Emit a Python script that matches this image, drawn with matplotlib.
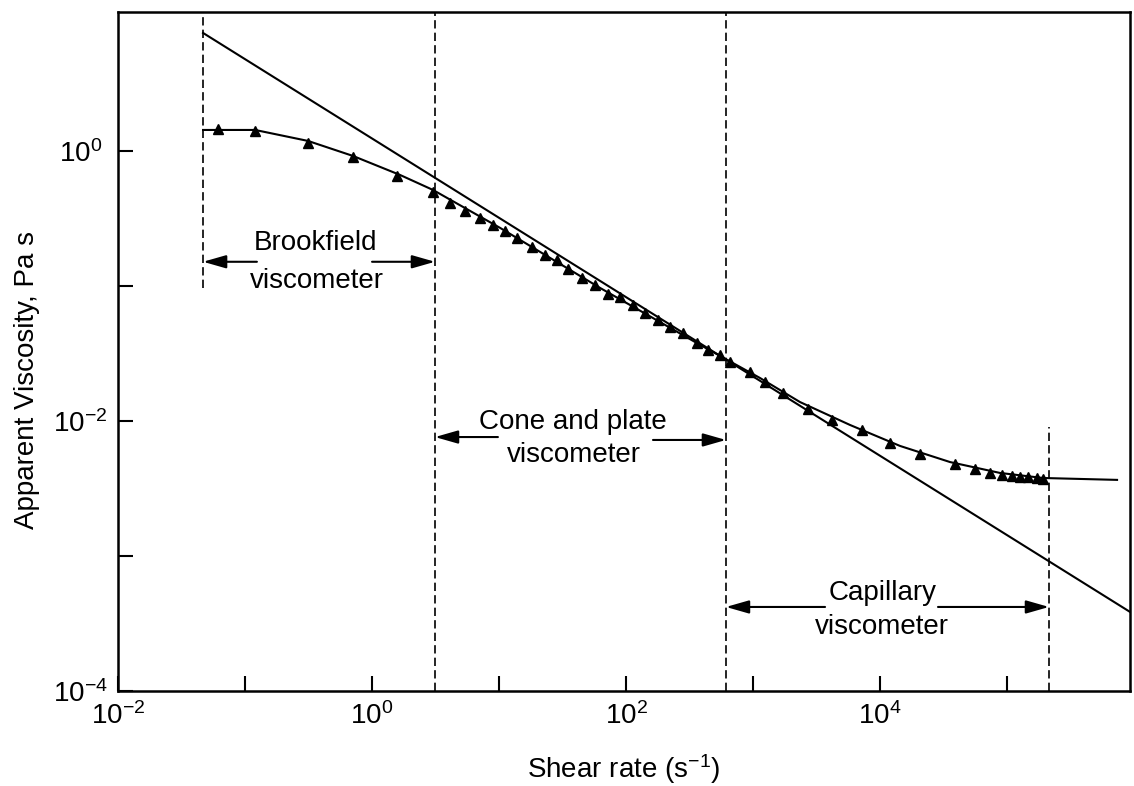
import matplotlib
matplotlib.use('Agg')
import matplotlib.pyplot as plt

plt.rcParams['font.family'] = 'Liberation Sans'
plt.rcParams['mathtext.fontset'] = 'custom'
plt.rcParams['mathtext.rm'] = 'Liberation Sans'
plt.rcParams['mathtext.it'] = 'Liberation Sans:italic'
plt.rcParams['mathtext.bf'] = 'Liberation Sans:bold'

# measured points (triangles)
shear_rate = [0.0612, 0.12, 0.313, 0.708, 1.57, 3.02, 4.11, 5.40, 7.08, 8.97,
              11.1, 13.9, 18.2, 23.0, 28.6, 34.9, 45.1, 57.0, 72.2, 89.7,
              113.5, 141, 179, 222, 281, 362, 442, 550, 659, 947,
              1242, 1722, 2710, 4190, 7210, 12000, 20650, 39000, 56000, 73500,
              91400, 109000, 126000, 146000, 172000, 192000]
viscosity = [1.456, 1.41, 1.146, 0.903, 0.653, 0.497, 0.412, 0.360, 0.319, 0.283,
             0.255, 0.227, 0.195, 0.169, 0.156, 0.134, 0.115, 0.102, 0.0873, 0.0828,
             0.0723, 0.0631, 0.0560, 0.0497, 0.0449, 0.0378, 0.0336, 0.0308, 0.0273, 0.0231,
             0.0194, 0.0161, 0.0123, 0.0102, 0.00859, 0.00687, 0.00570, 0.00481, 0.00441, 0.00411,
             0.00398, 0.00391, 0.00385, 0.00385, 0.00378, 0.00372]

# fitted curve through the data
fit_rate = [0.0467, 0.12, 0.313, 0.708, 1.66, 3.02, 10.2, 62.4, 383, 1135,
            2344, 5800, 14370, 35600, 88000, 192000, 735000]
fit_visc = [1.43, 1.43, 1.186, 0.918, 0.664, 0.514, 0.269, 0.0967, 0.0366, 0.0208,
            0.0138, 0.00934, 0.00653, 0.00496, 0.00412, 0.00378, 0.00366]

# power-law line
power_rate = [0.0467, 9.3e5]
power_visc = [7.48, 3.85e-4]

# instrument range limits (dashed)
limit_rate = [0.0467, 3.13, 612, 2.14e5]
limit_low = [0.0967, 1e-4, 1e-4, 1e-4]
limit_high = [10.7, 10.7, 10.7, 0.00903]

# range arrows: (tail, tip)
arrows = [
    ((0.124, 0.151), (0.0467, 0.151)),
    ((1.0, 0.151), (3.13, 0.151)),
    ((9.8, 0.0076), (3.13, 0.0076)),
    ((163, 0.00723), (612, 0.00723)),
    ((3690, 4.19e-4), (612, 4.19e-4)),
    ((28600, 4.19e-4), (2.14e5, 4.19e-4)),
]
labels = [
    (0.36, 0.208, 'Brookfield'), (0.37, 0.109, 'viscometer'),
    (38.3, 0.00983, 'Cone and plate'), (39.0, 0.0056, 'viscometer'),
    (10400, 5.32e-4, 'Capillary'), (10400, 2.98e-4, 'viscometer'),
]

fig = plt.figure(figsize=(11.34, 7.86), dpi=100)
ax = fig.add_axes([0.1041, 0.1209, 0.8924, 0.8639])
ax.set_xscale('log')
ax.set_yscale('log')
ax.set_xlim(1e-2, 9.3e5)
ax.set_ylim(1e-4, 10.7)

ax.plot(power_rate, power_visc, 'k-', lw=1.5)
ax.plot(fit_rate, fit_visc, 'k-', lw=1.5)
ax.plot(shear_rate, viscosity, 'k^', ms=6.5, ls='none')
ax.vlines(limit_rate, limit_low, limit_high, colors='k', lw=1.2,
          linestyles=(0, (5, 2.5)))

for tail, tip in arrows:
    ax.annotate('', xy=tip, xytext=tail,
                arrowprops=dict(arrowstyle='-|>,head_length=0.7,head_width=0.2',
                                color='k', lw=1.5, mutation_scale=20,
                                shrinkA=0, shrinkB=0))
for x, y, s in labels:
    ax.text(x, y, s, ha='center', va='center', fontsize=20)

xdec = list(range(-2, 6))
ax.set_xticks([10.0 ** k for k in xdec],
              labels=[r'$\mathdefault{10^{%d}}$' % k if k % 2 == 0 else '' for k in xdec])
ydec = list(range(-4, 1))
ax.set_yticks([10.0 ** k for k in ydec],
              labels=[r'$\mathdefault{10^{%d}}$' % k if k % 2 == 0 else '' for k in ydec])
ax.minorticks_off()
ax.tick_params(axis='both', direction='in', length=11, width=1.5, labelsize=20)
ax.tick_params(axis='x', pad=8)
ax.tick_params(axis='y', pad=27)
for lbl in ax.get_yticklabels():
    lbl.set_horizontalalignment('center')

for sp in ax.spines.values():
    sp.set_linewidth(1.8)

ax.set_xlabel(r'Shear rate (s$^{-1}$)', fontsize=20)
ax.set_ylabel('Apparent Viscosity, Pa s', fontsize=20)
ax.xaxis.set_label_coords(0.5, -0.09)
ax.yaxis.set_label_coords(-0.077, 0.458)

fig.savefig('out.png', dpi=100, facecolor='white')
